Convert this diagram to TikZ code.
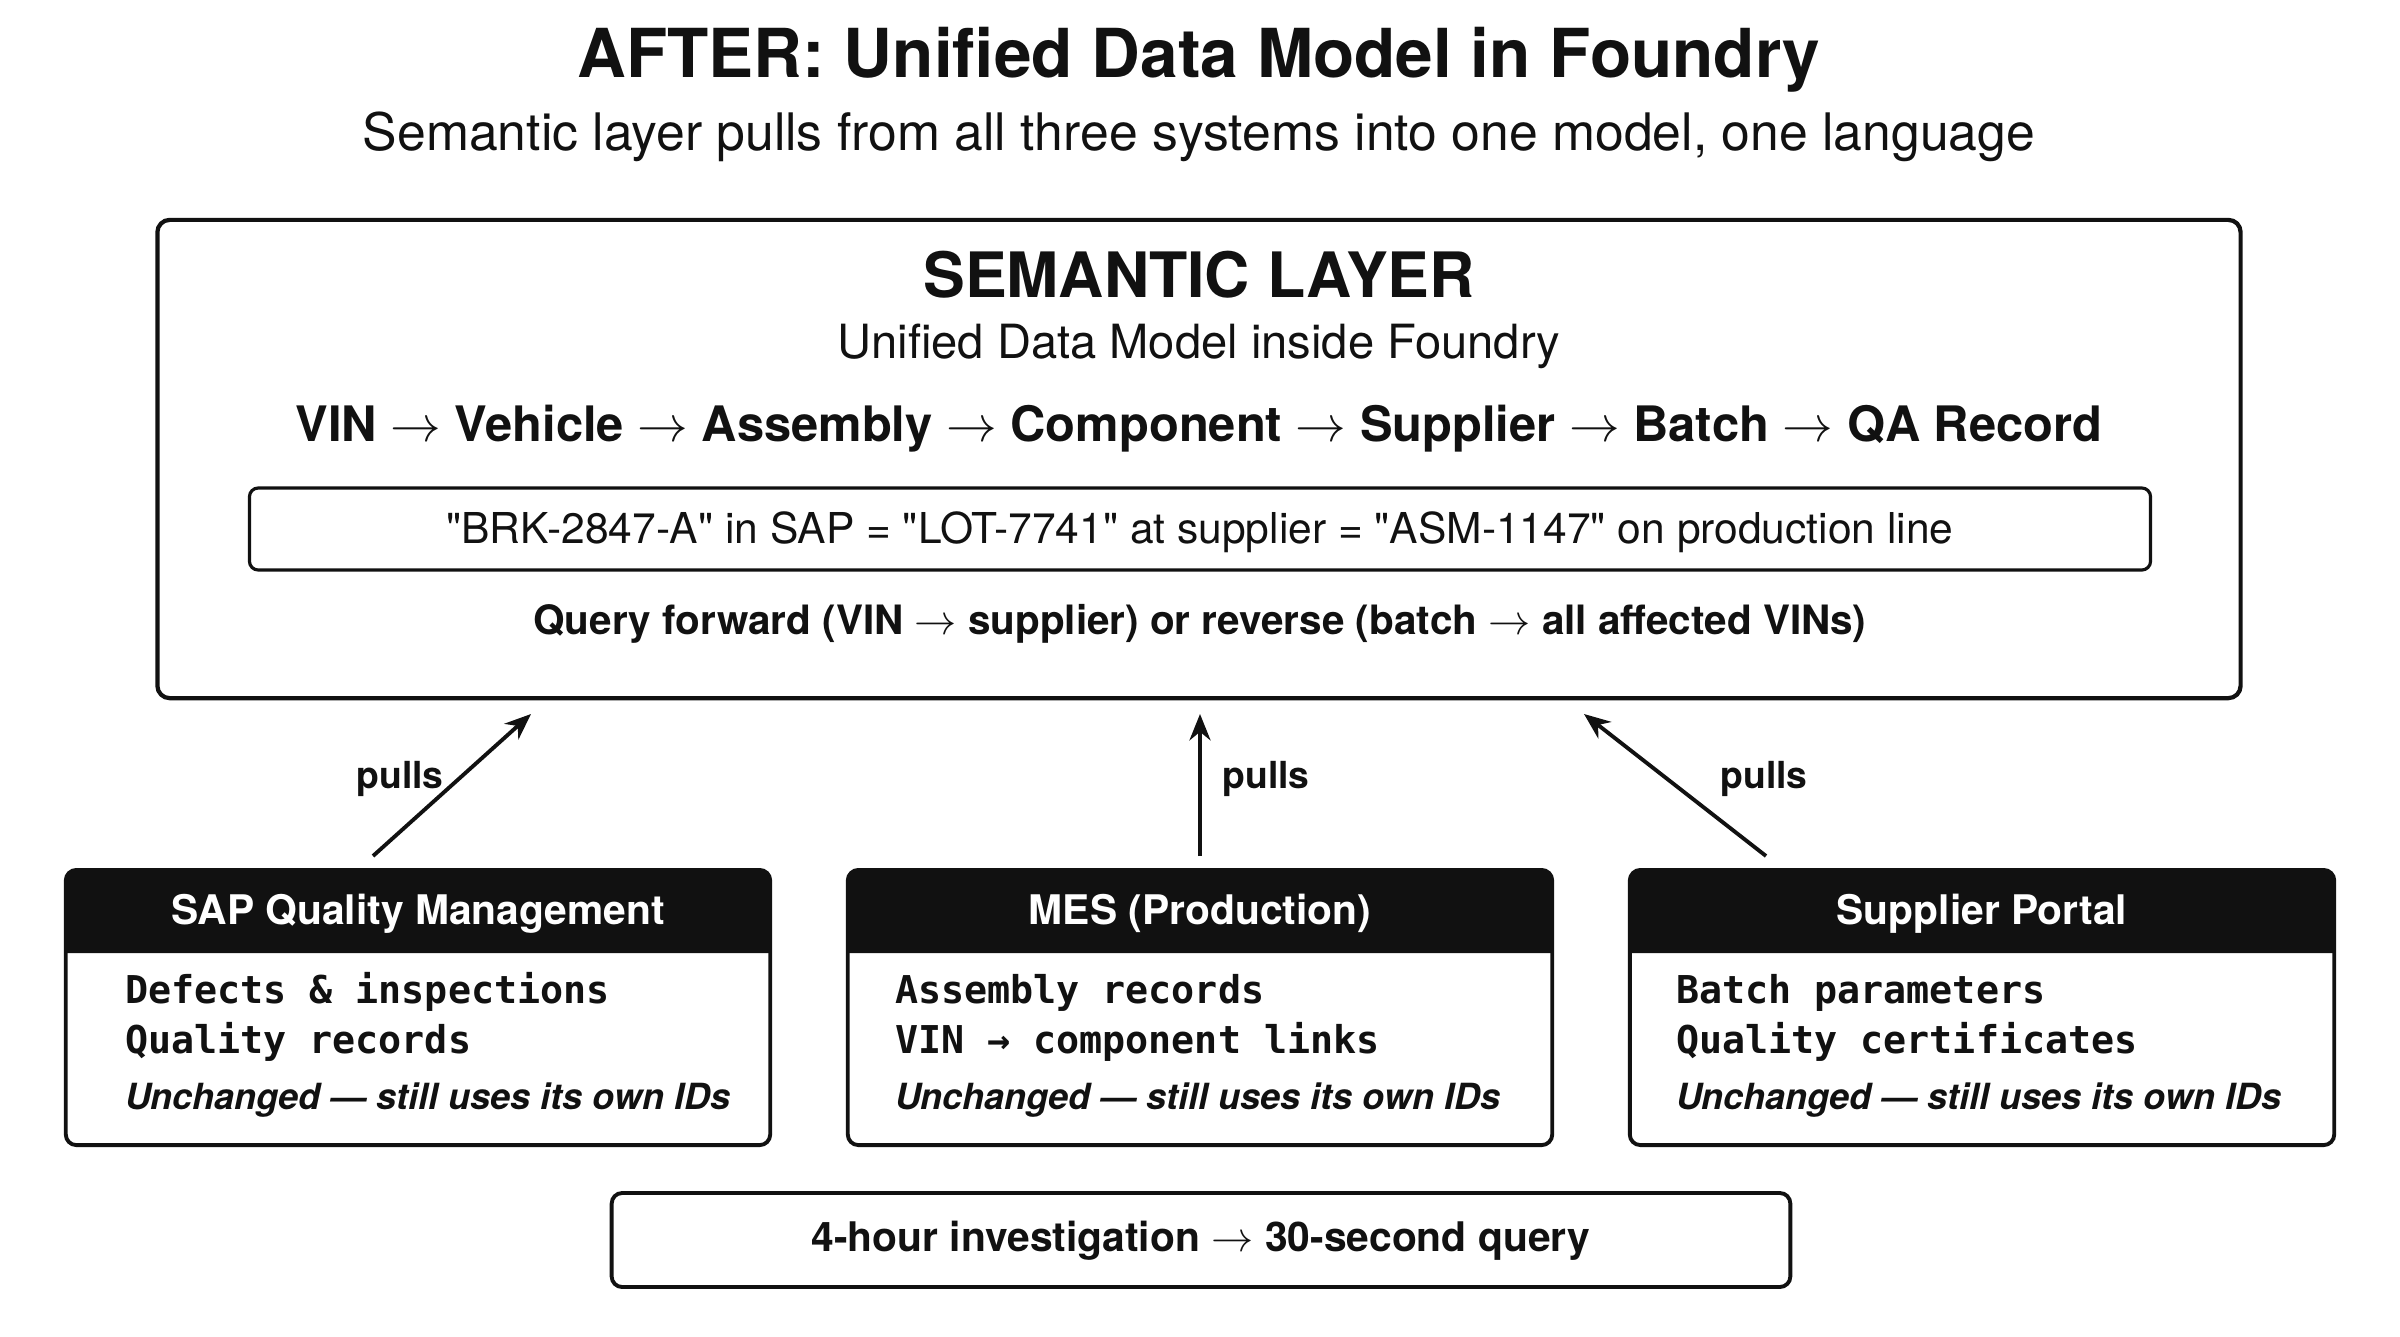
\documentclass[tikz,border=0pt]{standalone}
\usepackage{fontspec}
\setmainfont{TeX Gyre Heros}
\newfontfamily\idfont{TeX Gyre Heros}[Ligatures=TeXOff]
\newfontfamily\monofont{DejaVu Sans Mono}
\usetikzlibrary{arrows.meta}
\definecolor{ink}{HTML}{111111}
\tikzset{
  txt/.style={inner sep=0pt, outer sep=0pt, anchor=base, text=ink},
  ttl/.style={txt, font=\fontsize{19.2}{23}\selectfont\bfseries},
  subttl/.style={txt, font=\fontsize{14.7}{18}\selectfont},
  semttl/.style={txt, font=\fontsize{17.8}{21}\selectfont\bfseries},
  semsub/.style={txt, font=\fontsize{13.4}{16}\selectfont},
  chain/.style={txt, font=\fontsize{13.9}{17}\selectfont\bfseries},
  idline/.style={txt, font=\idfont\fontsize{12.1}{15}\selectfont},
  query/.style={txt, font=\fontsize{11.5}{14}\selectfont\bfseries},
  hdrtxt/.style={txt, text=white, font=\fontsize{11.6}{14}\selectfont\bfseries},
  monotxt/.style={txt, anchor=base west, font=\fontsize{10.9}{13}\selectfont\monofont\bfseries},
  ittxt/.style={txt, anchor=base west, font=\fontsize{10.25}{12}\selectfont\bfseries\itshape},
  pullstxt/.style={txt, font=\fontsize{10.6}{13}\selectfont\bfseries},
  bigbox/.style={draw=ink, line width=1.2pt, rounded corners=3.5pt, inner sep=0pt, outer sep=0pt},
  idbox/.style={draw=ink, line width=0.9pt, rounded corners=2.5pt, inner sep=0pt, outer sep=0pt},
  sysbox/.style={draw=ink, line width=1.1pt, rounded corners=3pt, inner sep=0pt, outer sep=0pt,
     minimum width=7.04cm, minimum height=2.75cm},
  hdrfill/.style={fill=ink},
  pullarrow/.style={draw=ink, line width=1.1pt, -{Stealth[length=7.5pt, width=6pt]}},
}
\begin{document}
\begin{tikzpicture}[x=0.01cm, y=-0.01cm]
\useasboundingbox (0,0) rectangle (2400,1336);

% titles
\node[ttl] (title) at (1199,77) {AFTER: Unified Data Model in Foundry};
\node[subttl] (subtitle) at (1199,150) {Semantic layer pulls from all three systems into one model, one language};

% semantic layer
\node[bigbox, minimum width=20.82cm, minimum height=4.78cm] (sem) at (1199,459) {};
\node[semttl] (semtitle) at (1199,297) {SEMANTIC LAYER};
\node[semsub] (semsub) at (1199,358) {Unified Data Model inside Foundry};
\node[chain] (chain) at (1199,441) {VIN $\rightarrow$ Vehicle $\rightarrow$ Assembly $\rightarrow$ Component $\rightarrow$ Supplier $\rightarrow$ Batch $\rightarrow$ QA Record};
\node[idbox, minimum width=19.0cm, minimum height=0.82cm] (idb) at (1200,529) {};
\node[idline] (idtext) at (1200,543) {"BRK-2847-A" in SAP = "LOT-7741" at supplier = "ASM-1147" on production line};
\node[query] (query) at (1200,634) {Query forward (VIN $\rightarrow$ supplier) or reverse (batch $\rightarrow$ all affected VINs)};

% system boxes: header bands
\foreach \cx in {418,1200,1982} {
  \fill[hdrfill, rounded corners=3pt] (\cx-352,953) -- (\cx-352,870) -- (\cx+352,870) [sharp corners] -- (\cx+352,953) -- cycle;
}
\node[sysbox] (sap) at (418,1007.5) {};
\node[sysbox] (mes) at (1200,1007.5) {};
\node[sysbox] (sup) at (1982,1007.5) {};

\node[hdrtxt] (saph) at (418,924) {SAP Quality Management};
\node[hdrtxt] (mesh) at (1200,924) {MES (Production)};
\node[hdrtxt] (suph) at (1982,924) {Supplier Portal};

\node[monotxt] (sap1) at (125,1003) {Defects \& inspections};
\node[monotxt] (sap2) at (125,1053) {Quality records};
\node[ittxt] (sap3) at (125,1109) {Unchanged --- still uses its own IDs};

\node[monotxt] (mes1) at (895,1003) {Assembly records};
\node[monotxt] (mes2) at (895,1053) {VIN → component links};
\node[ittxt] (mes3) at (895,1109) {Unchanged --- still uses its own IDs};

\node[monotxt] (sup1) at (1676,1003) {Batch parameters};
\node[monotxt] (sup2) at (1676,1053) {Quality certificates};
\node[ittxt] (sup3) at (1676,1109) {Unchanged --- still uses its own IDs};

% arrows
\coordinate (a1s) at (373,856);
\coordinate (a1e) at (531,714);
\coordinate (a2s) at (1200,856);
\coordinate (a2e) at (1200,714);
\coordinate (a3s) at (1766,856);
\coordinate (a3e) at (1584,714);
\draw[pullarrow] (a1s) -- (a1e);
\draw[pullarrow] (a2s) -- (a2e);
\draw[pullarrow] (a3s) -- (a3e);
\node[pullstxt] (p1) at (400,788) {pulls};
\node[pullstxt] (p2) at (1266,788) {pulls};
\node[pullstxt] (p3) at (1764,788) {pulls};

% result
\node[bigbox, line width=1.1pt, rounded corners=3pt, minimum width=11.78cm, minimum height=0.94cm] (res) at (1201,1240) {};
\node[query, font=\fontsize{11.6}{14}\selectfont\bfseries] (restext) at (1201,1251) {4-hour investigation $\rightarrow$ 30-second query};
\end{tikzpicture}
\end{document}
